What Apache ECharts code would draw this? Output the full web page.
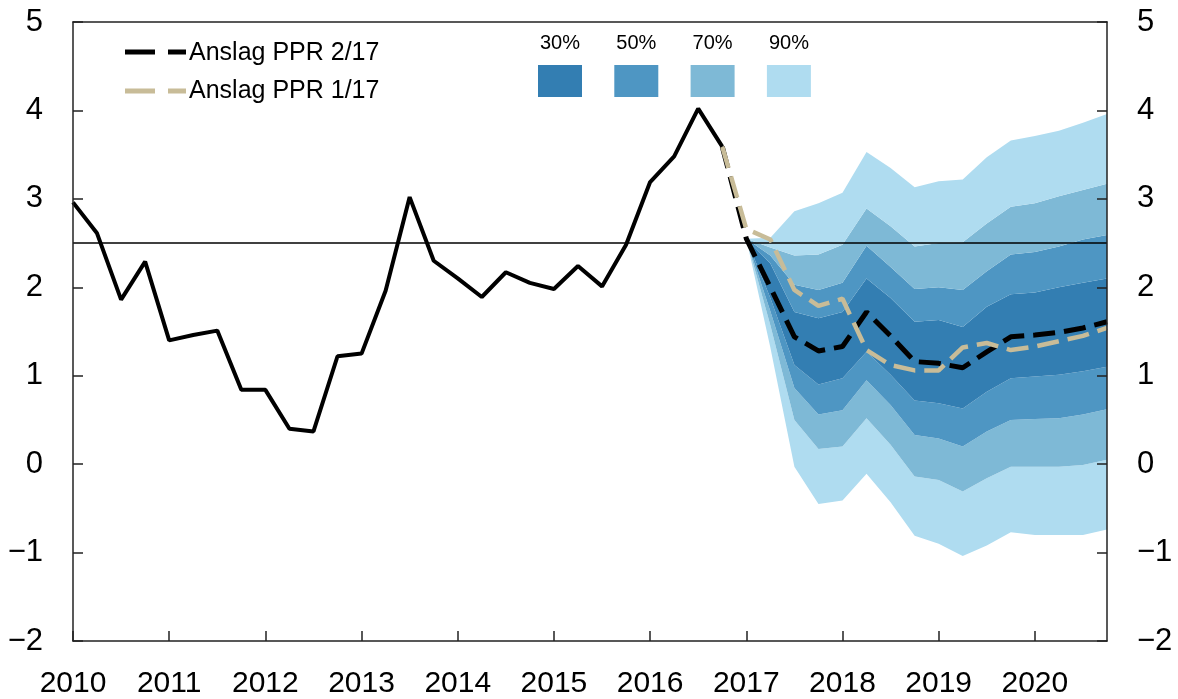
<!DOCTYPE html>
<html>
<head>
<meta charset="utf-8">
<script src="https://cdn.jsdelivr.net/npm/echarts@6/dist/echarts.min.js"></script>
<style>
html,body{margin:0;padding:0;background:#fff;}
#chart{width:1178px;height:699px;}
</style>
</head>
<body>
<div id="chart"></div>
<script>
// ---------- DATA ----------
const years = [2010,2011,2012,2013,2014,2015,2016,2017,2018,2019,2020];
const quarterNames = ['K1','K2','K3','K4'];
// historical (2010K1 .. 2016K4)
const historical = [2.96,2.61,1.86,2.29, 1.40,1.46,1.51,0.84, 0.84,0.40,0.37,1.22,
  1.25,1.96,3.02,2.30, 2.10,1.89,2.17,2.05, 1.98,2.24,2.01,2.48, 3.19,3.48,4.02,3.59];
// projections from 2016K4 .. 2020K4
const forecastStartIndex = 27;
const pprNew = [3.59,2.55,2.00,1.44,1.28,1.33,1.72,1.45,1.16,1.14,1.09,1.27,1.44,1.46,1.49,1.54,1.61];
const pprOld = [3.59,2.66,2.54,1.97,1.79,1.87,1.29,1.12,1.06,1.06,1.32,1.37,1.29,1.33,1.39,1.45,1.54];
// fan bands, 2017K1 .. 2020K4
const fanStartIndex = 28;
const upper90 = [2.55,2.56,2.86,2.95,3.07,3.53,3.35,3.13,3.20,3.22,3.47,3.66,3.71,3.77,3.86,3.96];
const upper70 = [2.55,2.45,2.36,2.37,2.48,2.89,2.69,2.46,2.50,2.51,2.72,2.91,2.95,3.03,3.10,3.17];
const upper50 = [2.55,2.36,2.03,1.97,2.05,2.47,2.23,1.98,2.00,1.97,2.18,2.37,2.40,2.46,2.54,2.59];
const upper30 = [2.55,2.27,1.72,1.65,1.72,2.10,1.88,1.61,1.63,1.55,1.78,1.92,1.94,2.00,2.05,2.10];
const lower30 = [2.55,1.88,1.12,0.90,0.97,1.27,1.01,0.72,0.69,0.63,0.82,0.97,0.99,1.01,1.05,1.10];
const lower50 = [2.55,1.73,0.86,0.56,0.61,0.95,0.67,0.33,0.29,0.20,0.37,0.50,0.51,0.52,0.56,0.62];
const lower70 = [2.55,1.57,0.50,0.17,0.20,0.52,0.22,-0.14,-0.18,-0.31,-0.16,-0.03,-0.03,-0.03,-0.01,0.05];
const lower90 = [2.55,1.32,-0.03,-0.45,-0.41,-0.11,-0.43,-0.81,-0.90,-1.04,-0.92,-0.77,-0.80,-0.80,-0.80,-0.74];
const targetLevel = 2.5;
const yTicks = {min:-2, max:5, interval:1};
const seriesNames = ['Anslag PPR 2/17','Anslag PPR 1/17'];
const bandLabels = ['30%','50%','70%','90%'];

// ---------- STYLE ----------
const FONT = '"Liberation Sans", Arial, Helvetica, sans-serif';
const bandColors = {'30%':'#337EB2','50%':'#4E96C3','70%':'#7EB9D6','90%':'#AFDCF0'};
const beige = '#C8BC98';

// ---------- BUILD ----------
const categories = [];
years.forEach(y => quarterNames.forEach(q => categories.push(y + q)));
const N = categories.length;

function place(arr, start){
  const out = new Array(N).fill(null);
  arr.forEach((v,i)=>{ out[start+i] = v; });
  return out;
}
function diff(a,b){ return a.map((v,i)=> +(v - b[i]).toFixed(4)); }

const histData = place(historical, 0);
const newData = place(pprNew, forecastStartIndex);
const oldData = place(pprOld, forecastStartIndex);

const bandLayers = [
  {data: lower90, color: null},
  {data: diff(lower70, lower90), color: bandColors['90%']},
  {data: diff(lower50, lower70), color: bandColors['70%']},
  {data: diff(lower30, lower50), color: bandColors['50%']},
  {data: diff(upper30, lower30), color: bandColors['30%']},
  {data: diff(upper50, upper30), color: bandColors['50%']},
  {data: diff(upper70, upper50), color: bandColors['70%']},
  {data: diff(upper90, upper70), color: bandColors['90%']}
];

const series = bandLayers.map((b, i) => ({
  type: 'line',
  name: 'band' + i,
  stack: 'fan',
  stackStrategy: 'all',
  data: place(b.data, fanStartIndex),
  symbol: 'none',
  silent: true,
  z: 1,
  lineStyle: {width: 0, opacity: 0},
  areaStyle: b.color ? {color: b.color, opacity: 1} : undefined
}));

series.push({
  type: 'line', name: seriesNames[0], data: newData, symbol: 'none', z: 4,
  lineStyle: {color: '#000', width: 5, type: [22, 9]}
});
series.push({
  type: 'line', name: seriesNames[1], data: oldData, symbol: 'none', z: 5,
  lineStyle: {color: beige, width: 4.5, type: [22, 9]}
});
series.push({
  type: 'line', name: 'historical', data: histData, symbol: 'none', z: 6,
  lineStyle: {color: '#000', width: 4},
  markLine: {
    silent: true, symbol: 'none', animation: false,
    label: {show: false},
    lineStyle: {color: '#000', width: 1.5, type: 'solid'},
    emphasis: {disabled: true},
    data: [{yAxis: targetLevel}]
  }
});

const yearTick = (i) => i % 4 === 0;
const minus = v => (v < 0 ? '\u2212' + (-v) : String(v));
const axisLineStyle = {color: '#222', width: 1.5};

const yAxisBase = {
  type: 'value', min: yTicks.min, max: yTicks.max, interval: yTicks.interval,
  axisLine: {show: true, lineStyle: axisLineStyle},
  axisTick: {show: true, inside: true, length: 10, lineStyle: axisLineStyle},
  splitLine: {show: false},
  axisLabel: {fontSize: 31, color: '#000', fontFamily: FONT, margin: 30, formatter: minus}
};

// legend graphics
const graphics = [
  {type:'line', shape:{x1:125,y1:52,x2:186,y2:52}, style:{stroke:'#000', lineWidth:5, lineDash:[30,13]}},
  {type:'text', x:189, y:53, style:{text:seriesNames[0], font:'25px '+FONT, fill:'#000', verticalAlign:'middle'}},
  {type:'line', shape:{x1:125,y1:91,x2:186,y2:91}, style:{stroke:beige, lineWidth:5, lineDash:[30,13]}},
  {type:'text', x:189, y:91, style:{text:seriesNames[1], font:'25px '+FONT, fill:'#000', verticalAlign:'middle'}}
];
bandLabels.forEach((lab, i) => {
  const x0 = 538 + i * 76.3;
  graphics.push({type:'text', x: x0 + 22, y: 43, style:{text: lab, font:'20px '+FONT, fill:'#000', align:'center', verticalAlign:'middle'}});
  graphics.push({type:'rect', shape:{x: x0, y: 65, width: 44, height: 32}, style:{fill: bandColors[lab]}});
});

const option = {
  animation: false,
  backgroundColor: '#fff',
  grid: {left: 73, right: 71, top: 22, bottom: 57, containLabel: false},
  xAxis: [
    {
      type: 'category', data: categories, boundaryGap: false, position: 'bottom', z: 10,
      axisLine: {show: true, onZero: false, lineStyle: axisLineStyle},
      axisTick: {show: true, inside: true, length: 10, interval: yearTick, lineStyle: axisLineStyle},
      axisLabel: {interval: yearTick, fontSize: 30, color: '#000', fontFamily: FONT, margin: 28,
        formatter: v => v.slice(0, 4)},
      splitLine: {show: false}
    },
    {
      type: 'category', data: categories, boundaryGap: false, position: 'top', z: 10,
      axisLine: {show: true, onZero: false, lineStyle: axisLineStyle},
      axisTick: {show: false}, axisLabel: {show: false}, splitLine: {show: false}
    }
  ],
  yAxis: [
    Object.assign({}, yAxisBase, {position: 'left', z: 10}),
    Object.assign({}, yAxisBase, {position: 'right', z: 10})
  ],
  graphic: graphics,
  series: series
};

const chart = echarts.init(document.getElementById('chart'), null, {renderer: 'canvas'});
chart.setOption(option);
</script>
</body>
</html>
